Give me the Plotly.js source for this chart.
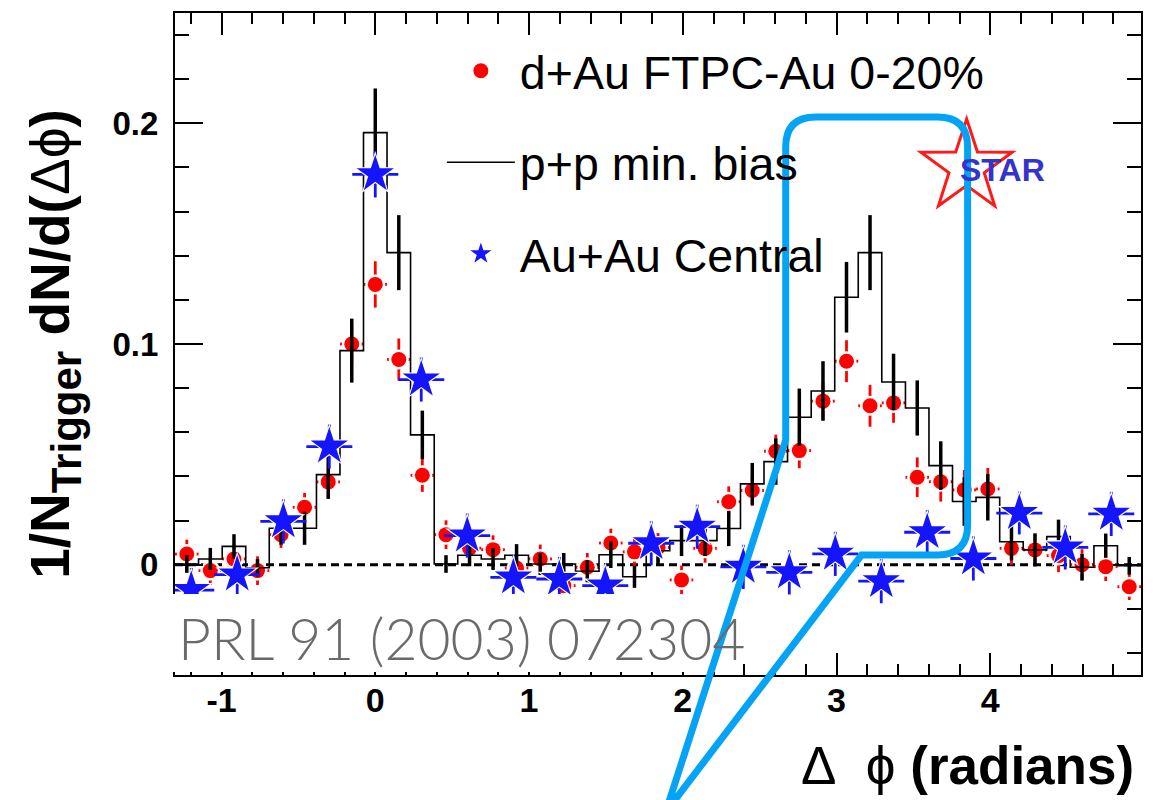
<!DOCTYPE html>
<html><head><meta charset="utf-8">
<script src="https://cdn.plot.ly/plotly-3.0.1.min.js"></script>
<style>html,body{margin:0;padding:0;background:#fff}#chart{width:1160px;height:800px}</style>
</head><body><div id="chart"></div>
<script>
// ---- data ----
// fine binning (41 bins over 2*pi): d+Au and p+p
const dphiFine = [-1.226,-1.073,-0.919,-0.766,-0.613,-0.460,-0.306,-0.153,0.000,0.153,0.306,0.460,0.613,0.766,0.919,1.073,1.226,1.379,1.532,1.686,1.839,1.992,2.145,2.299,2.452,2.605,2.758,2.912,3.065,3.218,3.371,3.525,3.678,3.831,3.984,4.138,4.291,4.444,4.597,4.751,4.904];
const dAuY   = [0.0048,-0.0027,0.0026,-0.0027,0.0136,0.026,0.0375,0.100,0.127,0.093,0.0405,0.0136,0.0075,0.0068,-0.0015,0.0026,-0.0095,-0.0012,0.0098,0.0058,0.0078,-0.0069,0.0074,0.0285,0.0336,0.0514,0.0517,0.0741,0.0922,0.072,0.0733,0.0396,0.0376,0.0339,0.0343,0.0074,0.0067,0.0041,0.0,-0.0009,-0.010];
const dAuErr = [0.0065,0.0065,0.0065,0.0065,0.006,0.0065,0.0075,0.0085,0.0105,0.0095,0.0075,0.0065,0.0065,0.0065,0.0065,0.0065,0.0065,0.0065,0.0065,0.0065,0.0065,0.0065,0.0065,0.007,0.007,0.0075,0.008,0.0085,0.0095,0.0095,0.009,0.009,0.009,0.009,0.0095,0.0075,0.007,0.0075,0.007,0.0065,0.006];
const ppY    = [0.0003,0.0026,0.0083,-0.0014,0.0165,0.0165,0.0408,0.097,0.1958,0.1414,0.0588,0.0003,0.0043,0.0026,0.0043,0.0003,0.0003,-0.003,0.0045,-0.0055,0.0063,0.0109,0.0109,0.0164,0.0366,0.0467,0.0668,0.0787,0.1212,0.1414,0.0828,0.071,0.0449,0.0286,0.0305,0.0104,0.0067,0.0127,-0.0012,0.0086,-0.0005];
const ppErr  = [0.004,0.005,0.0055,0.004,0.0075,0.0075,0.011,0.0145,0.020,0.017,0.011,0.004,0.005,0.005,0.005,0.005,0.005,0.005,0.006,0.005,0.006,0.007,0.007,0.008,0.0095,0.0105,0.013,0.0135,0.016,0.017,0.0128,0.0125,0.011,0.011,0.0105,0.0085,0.0075,0.0077,0.006,0.0055,0.004];
const halfBinFine = 0.0766;
// coarse binning (21 bins over 2*pi): Au+Au central
const dphiCoarse = [-1.197,-0.898,-0.598,-0.299,0.000,0.299,0.598,0.898,1.197,1.496,1.795,2.094,2.394,2.693,2.992,3.291,3.590,3.890,4.189,4.488,4.787];
const auauY   = [-0.0115,-0.0045,0.0196,0.0535,0.1769,0.0839,0.0132,-0.0058,-0.0065,-0.0095,0.0097,0.0172,-0.001,-0.0035,0.0049,-0.0075,0.0147,0.0028,0.0234,0.0078,0.023];
const auauErr = [0.010,0.010,0.010,0.010,0.0105,0.010,0.010,0.010,0.010,0.010,0.010,0.010,0.010,0.010,0.010,0.010,0.010,0.010,0.0097,0.010,0.010];
const halfBinCoarse = 0.1496;
// axis ticks
const xTickVals = [-1,0,1,2,3,4];
const xTickText = ["-1","0","1","2","3","4"];
const yTickVals = [0,0.1,0.2];
const yTickText = ["0","0.1","0.2"];
const seriesNames = ["d+Au FTPC-Au 0-20%","p+p min. bias","Au+Au Central"];

// ---- build ----
const FONT = "Liberation Sans, Arial, Helvetica, sans-serif";
const RED = '#ff0000', BLUE = '#1414ff';
const stepX = dphiFine.map(v => v - halfBinFine).concat([dphiFine[dphiFine.length-1] + halfBinFine]);
const stepY = ppY.concat([ppY[ppY.length-1]]);
const hidden = {color:'rgba(0,0,0,0)', size:1};

const traces = [
  { // d+Au error bars
    x: dphiFine, y: dAuY, type:'scatter', mode:'markers', showlegend:false, hoverinfo:'skip', marker: hidden,
    error_y:{type:'data', array:dAuErr, visible:true, color:RED, thickness:2.8, width:0},
    error_x:{type:'constant', value:halfBinFine, visible:true, color:RED, thickness:2.8, width:0}
  },
  { // white halo under d+Au markers (gap between marker and error bars)
    x: dphiFine, y: dAuY, type:'scatter', mode:'markers', showlegend:false, hoverinfo:'skip',
    marker:{color:'#ffffff', size:20, symbol:'circle'}
  },
  { // d+Au markers
    x: dphiFine, y: dAuY, type:'scatter', mode:'markers', name: seriesNames[0],
    legendgroup:'a', legendrank:1,
    marker:{color:RED, size:15, symbol:'circle'}
  },
  { // p+p histogram
    x: stepX, y: stepY, type:'scatter', mode:'lines', name: seriesNames[1],
    legendgroup:'b', legendrank:2,
    line:{color:'#000', width:1.6, shape:'hv'}
  },
  { // p+p error bars
    x: dphiFine, y: ppY, type:'scatter', mode:'markers', showlegend:false, hoverinfo:'skip', marker: hidden,
    error_y:{type:'data', array:ppErr, visible:true, color:'#000', thickness:3.5, width:0}
  },
  { // Au+Au error bars
    x: dphiCoarse, y: auauY, type:'scatter', mode:'markers', showlegend:false, hoverinfo:'skip', marker: hidden,
    error_y:{type:'data', array:auauErr, visible:true, color:BLUE, thickness:2.8, width:0},
    error_x:{type:'constant', value:halfBinCoarse, visible:true, color:BLUE, thickness:2.8, width:0}
  },
  { // white halo under Au+Au stars
    x: dphiCoarse, y: auauY, type:'scatter', mode:'markers', showlegend:false, hoverinfo:'skip',
    marker:{color:'#ffffff', size:33, symbol:'star'}
  },
  { // Au+Au stars
    x: dphiCoarse, y: auauY, type:'scatter', mode:'markers', name: seriesNames[2],
    legendgroup:'c', legendrank:3,
    marker:{color:BLUE, size:28, symbol:'star', line:{width:0}}
  }
];

// plot area geometry in pixels (for decorations in paper coords)
const L = 175, T = 13, W = 966.5, H = 662;
const px = x => (x - L) / W;
const py = y => (T + H - y) / H;

// STAR logo star outline
function starPath(cx, cy, R, r) {
  let d = '';
  for (let i = 0; i < 10; i++) {
    const ang = (-90 + i * 36) * Math.PI / 180;
    const rad = (i % 2 === 0) ? R : r;
    const X = cx + rad * Math.cos(ang), Y = cy + rad * Math.sin(ang);
    d += (i === 0 ? 'M' : 'L') + px(X).toFixed(4) + ',' + py(Y).toFixed(4) + ' ';
  }
  return d + 'Z';
}
// callout outline
function calloutPath() {
  const p = (x, y) => px(x).toFixed(4) + ',' + py(y).toFixed(4);
  return 'M' + p(666, 812) + ' L' + p(786, 440) + ' L' + p(786, 147) +
    ' Q' + p(786, 117) + ' ' + p(816, 117) + ' L' + p(938, 117) +
    ' Q' + p(968, 117) + ' ' + p(968, 147) + ' L' + p(968, 525) +
    ' Q' + p(968, 555) + ' ' + p(938, 555) + ' L' + p(862, 555) + ' Z';
}

const layout = {
  width: 1160, height: 800,
  margin: {l: L, r: 1160 - L - W, t: T, b: 800 - T - H, pad: 0},
  paper_bgcolor: '#fff', plot_bgcolor: '#fff',
  font: {family: FONT, color: '#000'},
  showlegend: true,
  legend: {x: px(442), y: py(34), xanchor: 'left', yanchor: 'top', bgcolor: 'rgba(0,0,0,0)',
           font: {family: FONT, size: 46.5, color: '#000'}, tracegroupgap: 28, itemwidth: 68},
  xaxis: {
    range: [-1.3027, 4.9805], tickmode: 'array', tickvals: xTickVals, ticktext: xTickText,
    ticks: 'inside', ticklen: 22, tickwidth: 2, tickcolor: '#000',
    minor: {tickmode: 'linear', tick0: 0, dtick: 0.2, ticks: 'inside', ticklen: 11, tickwidth: 2, tickcolor: '#000', showgrid: false},
    showline: true, linecolor: '#000', linewidth: 2, mirror: 'ticks',
    showgrid: false, zeroline: false, ticklabelstandoff: -6,
    tickfont: {family: FONT, size: 34, color: '#000', weight: 'bold'}
  },
  yaxis: {
    range: [-0.05, 0.25], tickmode: 'array', tickvals: yTickVals, ticktext: yTickText,
    ticks: 'inside', ticklen: 28, tickwidth: 2, tickcolor: '#000',
    minor: {tickmode: 'linear', tick0: 0, dtick: 0.02, ticks: 'inside', ticklen: 14, tickwidth: 2, tickcolor: '#000', showgrid: false},
    showline: true, linecolor: '#000', linewidth: 2, mirror: 'ticks',
    showgrid: false, zeroline: false, ticklabelstandoff: 8,
    tickfont: {family: FONT, size: 33, color: '#000', weight: 'bold'},
    title: {text: '1/N<sub><span style="font-size:42px">Trigger</span></sub> dN/d(<span style="font-weight:normal">Δϕ</span>)',
            font: {family: FONT, size: 55, color: '#000', weight: 'bold'}, standoff: 25}
  },
  shapes: [
    {type: 'line', xref: 'paper', yref: 'y', x0: 0, x1: 1, y0: 0, y1: 0, layer: 'below',
     line: {color: '#000', width: 3, dash: '8px,5px'}},
    {type: 'rect', xref: 'paper', yref: 'paper', x0: px(173), x1: px(743), y0: py(672), y1: py(594),
     fillcolor: '#fff', line: {width: 0}, layer: 'above'},
    {type: 'path', xref: 'paper', yref: 'paper', path: starPath(967, 167, 48, 18.5),
     line: {color: '#ff1a1a', width: 3}, fillcolor: 'rgba(0,0,0,0)', layer: 'above'},
    {type: 'path', xref: 'paper', yref: 'paper', path: calloutPath(),
     line: {color: '#05a3f5', width: 7}, fillcolor: 'rgba(0,0,0,0)', layer: 'above'}
  ],
  annotations: [
    {xref: 'paper', yref: 'paper', x: px(176), y: py(638), xanchor: 'left', yanchor: 'middle',
     text: 'PRL 91 (2003) 072304', showarrow: false,
     font: {family: 'Lato, Open Sans, sans-serif', size: 57, color: '#6a6a6a', weight: 300}},
    {xref: 'paper', yref: 'paper', x: px(1136), y: py(766), xanchor: 'right', yanchor: 'middle',
     text: '<span style="font-weight:normal">Δ</span>&nbsp;&nbsp;<span style="font-weight:normal">ϕ</span> (radians)', showarrow: false,
     font: {family: FONT, size: 53, color: '#000', weight: 'bold'}},
    {xref: 'paper', yref: 'paper', x: px(1003), y: py(170), xanchor: 'center', yanchor: 'middle',
     text: 'STAR', showarrow: false,
     font: {family: FONT, size: 32, color: '#3434cc', weight: 'bold'}}
  ]
};

Plotly.newPlot('chart', traces, layout, {staticPlot: true, displayModeBar: false});
</script>
</body></html>
